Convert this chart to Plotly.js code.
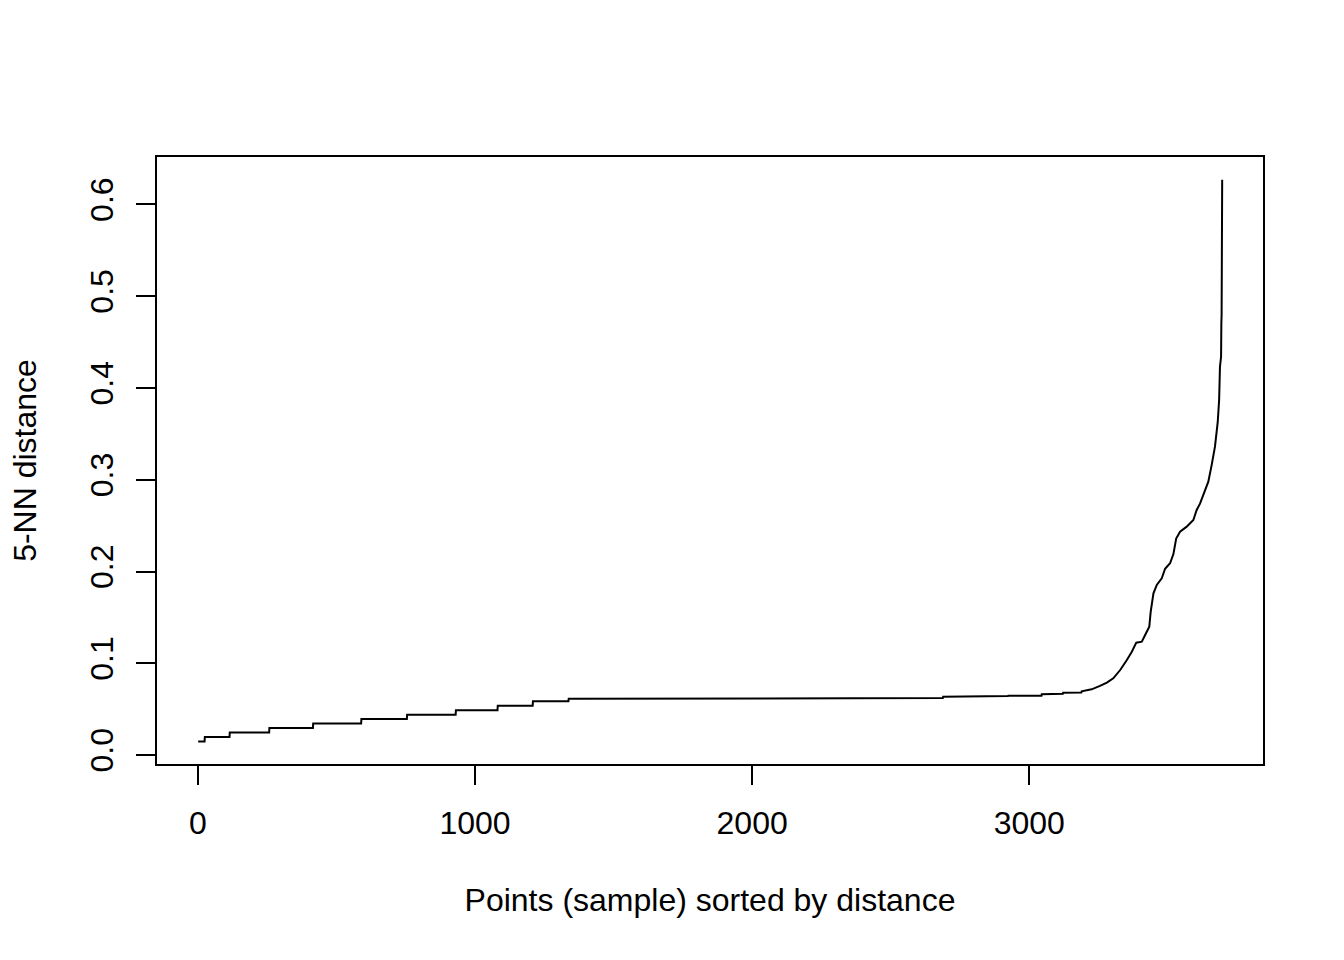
<!DOCTYPE html>
<html>
<head>
<meta charset="utf-8">
<script src="https://cdn.plot.ly/plotly-3.0.1.min.js"></script>
<style>html,body{margin:0;padding:0;background:#fff;}#chart{width:1344px;height:960px;}</style>
</head>
<body>
<div id="chart"></div>
<script>
// Points (sample) index, sorted by 5-NN distance
const pointIndex = [1, 24, 25, 114, 115, 257, 258, 415, 416, 589, 590, 754, 755, 930, 931, 1081, 1082, 1208, 1209, 1337, 1338,
  2322, 2323, 2688, 2689, 2887, 2888, 2923, 2924, 3044, 3045, 3121, 3122, 3188, 3189, 3225, 3255, 3280, 3303, 3328, 3352,
  3370, 3386, 3406, 3418, 3433, 3438, 3442, 3448, 3460, 3478, 3490, 3508, 3520, 3530, 3544, 3568, 3592, 3604, 3616, 3628,
  3646, 3658, 3670, 3680, 3685, 3688, 3692, 3693, 3694, 3696];
const knnDistance = [0.0147, 0.0147, 0.0196, 0.0196, 0.0245, 0.0245, 0.0294, 0.0294, 0.0343, 0.0343, 0.0392, 0.0392, 0.0441, 0.0441, 0.0490, 0.0490, 0.0539, 0.0539, 0.0588, 0.0588, 0.0613,
  0.0613, 0.0621, 0.0621, 0.0635, 0.0635, 0.0643, 0.0643, 0.0646, 0.0646, 0.0663, 0.0668, 0.0680, 0.0683, 0.0695, 0.0717, 0.0755, 0.0789, 0.0836, 0.0927, 0.1036,
  0.1127, 0.1225, 0.1236, 0.1309, 0.1400, 0.1560, 0.1640, 0.1763, 0.1854, 0.1927, 0.2030, 0.2090, 0.2190, 0.2360, 0.2434, 0.2489, 0.2562, 0.2671, 0.2740, 0.2835,
  0.2980, 0.3160, 0.3360, 0.3630, 0.3870, 0.4230, 0.4340, 0.4705, 0.4800, 0.6270];
const xTicks = [0, 1000, 2000, 3000];
const yTicks = [0.0, 0.1, 0.2, 0.3, 0.4, 0.5, 0.6];
const xTitle = "Points (sample) sorted by distance";
const yTitle = "5-NN distance";

const font = {family: "'Liberation Sans', Arial, Helvetica, sans-serif", size: 32, color: "#000"};

const trace = {
  x: pointIndex, y: knnDistance, type: "scatter", mode: "lines",
  line: {color: "#000", width: 2, shape: "linear"}, hoverinfo: "skip"
};

const layout = {
  width: 1344, height: 960,
  margin: {l: 157, r: 81, t: 157, b: 196, pad: 0},
  paper_bgcolor: "#fff", plot_bgcolor: "#fff",
  showlegend: false,
  font: font,
  xaxis: {
    range: [-147.6, 3843.3], autorange: false,
    tickvals: xTicks, ticktext: xTicks.map(String),
    ticks: "outside", ticklen: 19, tickwidth: 2, tickcolor: "#000",
    showgrid: false, zeroline: false,
    showline: true, mirror: true, linecolor: "#000", linewidth: 2,
    tickfont: font, ticklabelstandoff: 11,
    title: {text: xTitle, font: font, standoff: 48},
    automargin: false
  },
  yaxis: {
    range: [-0.0097, 0.6517], autorange: false,
    tickvals: yTicks, ticktext: yTicks.map(v => v.toFixed(1)),
    tickangle: -90,
    ticks: "outside", ticklen: 19, tickwidth: 2, tickcolor: "#000",
    showgrid: false, zeroline: false,
    showline: true, mirror: true, linecolor: "#000", linewidth: 2,
    tickfont: font, ticklabelstandoff: 10,
    title: {text: yTitle, font: font, standoff: 38},
    automargin: false
  }
};

Plotly.newPlot("chart", [trace], layout, {displayModeBar: false, staticPlot: true});
</script>
</body>
</html>
